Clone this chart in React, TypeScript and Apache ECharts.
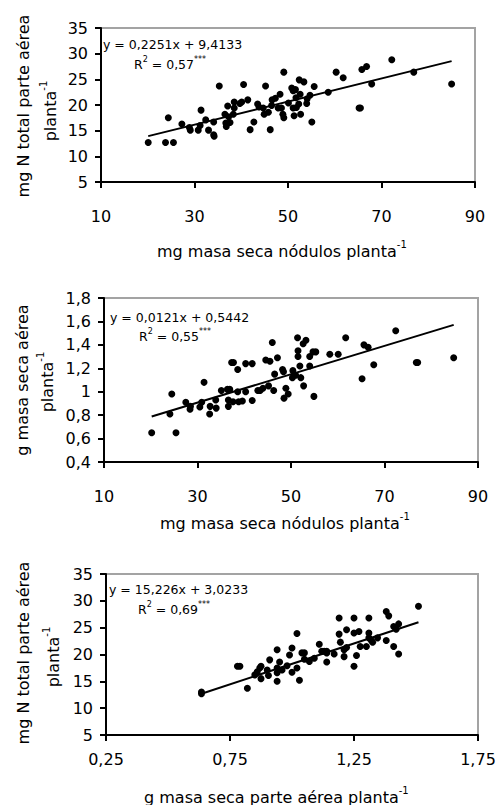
import React, { useEffect, useRef } from "react";
import * as echarts from "echarts";

// ---------- data ----------
// Chart 1: nodule dry mass (mg/plant) vs total N shoot (mg/plant)
const nod1X = [20.1, 23.8, 25.5, 24.4, 27.3, 28.9, 29.1, 30.8, 31.2, 31.4, 32.4, 33.0, 34.1, 34.1, 34.2, 35.3, 36.5, 36.7, 36.8, 37.1, 37.3, 37.6, 38.3, 38.5, 38.5, 39.7, 40.1, 40.5, 41.4, 41.9, 42.7, 43.5, 43.8, 44.7, 45.2, 44.9, 45.8, 46.2, 46.5, 46.6, 47.3, 48.3, 47.9, 48.6, 48.9, 49.1, 49.1, 50.1, 50.8, 51.1, 51.1, 51.3, 51.6, 51.7, 51.8, 52.3, 52.4, 52.6, 52.7, 53.4, 54.0, 54.1, 54.7, 55.1, 55.6, 58.6, 60.3, 61.8, 65.2, 65.5, 65.8, 66.8, 67.9, 72.2, 76.9, 85.0];
const nTot1Y = [12.7, 12.7, 12.7, 17.5, 16.3, 15.6, 15.1, 15.1, 16.0, 19.0, 17.1, 15.1, 16.7, 14.2, 13.9, 23.7, 18.2, 16.5, 15.8, 19.8, 17.7, 16.6, 18.2, 20.6, 19.4, 20.3, 20.6, 24.0, 21.0, 15.2, 16.7, 20.2, 19.6, 19.4, 23.7, 18.2, 18.6, 15.2, 19.9, 21.0, 21.3, 22.1, 19.4, 19.4, 18.2, 17.5, 26.4, 20.4, 23.3, 22.8, 19.4, 17.9, 23.0, 21.4, 19.5, 20.2, 24.9, 22.1, 18.2, 24.5, 20.3, 21.2, 21.9, 16.7, 23.6, 22.5, 26.4, 25.3, 19.4, 19.4, 26.9, 27.5, 24.1, 28.8, 26.4, 24.1];

// Chart 2: nodule dry mass vs shoot dry mass (g/plant)
const nod2X = [20.2, 24.1, 24.5, 25.4, 27.5, 28.4, 28.5, 30.5, 30.9, 31.4, 32.6, 32.7, 33.9, 34.0, 35.1, 36.4, 36.9, 36.6, 36.6, 37.3, 37.7, 37.6, 38.6, 38.6, 38.8, 39.6, 40.3, 40.3, 41.7, 41.7, 42.9, 43.4, 44.0, 44.6, 45.5, 45.2, 46.0, 46.3, 46.5, 47.1, 48.2, 48.4, 48.5, 48.9, 49.4, 50.3, 50.4, 51.0, 51.4, 51.5, 51.5, 51.9, 52.1, 52.6, 52.7, 53.2, 54.0, 54.0, 54.7, 54.9, 55.3, 58.3, 60.1, 61.7, 65.2, 65.6, 66.5, 67.7, 72.4, 76.8, 77.1, 84.8];
const msa2Y = [0.65, 0.81, 0.98, 0.65, 0.91, 0.85, 0.875, 0.87, 0.91, 1.08, 0.81, 0.875, 0.93, 0.86, 1.01, 1.02, 1.02, 0.93, 0.875, 1.25, 1.25, 0.915, 1.19, 1.0, 0.915, 0.92, 1.0, 1.24, 1.24, 0.925, 1.01, 1.01, 1.03, 1.27, 1.26, 1.05, 1.42, 1.01, 1.15, 1.29, 1.19, 1.17, 0.945, 1.03, 0.98, 1.12, 1.18, 1.14, 1.46, 1.35, 1.30, 1.22, 1.12, 1.41, 1.05, 1.44, 1.30, 1.22, 1.34, 0.96, 1.34, 1.32, 1.32, 1.46, 1.11, 1.40, 1.38, 1.23, 1.52, 1.25, 1.25, 1.29];

// Chart 3: shoot dry mass (g/plant) vs total N shoot (mg/plant)
const msa3X = [0.635, 0.635, 0.78, 0.79, 0.82, 0.85, 0.86, 0.87, 0.875, 0.875, 0.90, 0.91, 0.905, 0.94, 0.94, 0.94, 0.94, 0.95, 0.96, 0.98, 0.99, 1.0, 1.0, 1.02, 1.02, 1.03, 1.04, 1.05, 1.05, 1.07, 1.09, 1.11, 1.12, 1.13, 1.14, 1.14, 1.14, 1.17, 1.19, 1.19, 1.195, 1.21, 1.21, 1.22, 1.22, 1.25, 1.25, 1.25, 1.26, 1.27, 1.275, 1.30, 1.31, 1.31, 1.31, 1.32, 1.325, 1.345, 1.38, 1.38, 1.39, 1.41, 1.41, 1.42, 1.43, 1.43, 1.51];
const nTot3Y = [13.0, 12.7, 17.8, 17.8, 13.7, 16.2, 16.8, 17.5, 17.8, 15.5, 17.1, 19.0, 16.1, 20.9, 17.5, 16.6, 15.0, 18.6, 17.1, 17.9, 19.9, 21.2, 16.7, 23.9, 17.5, 15.2, 20.3, 20.3, 19.1, 18.7, 19.3, 21.9, 20.6, 20.6, 20.3, 20.6, 18.6, 20.1, 23.8, 26.8, 22.3, 20.9, 19.6, 21.3, 24.6, 26.8, 24.0, 17.8, 19.8, 24.3, 21.5, 21.5, 26.8, 24.0, 23.1, 22.6, 22.3, 23.1, 28.0, 22.6, 27.2, 21.5, 25.2, 24.7, 25.7, 20.1, 29.0];

// Regression coefficients (slope, intercept) as printed
const reg1 = [0.2251, 9.4133];
const reg2 = [0.0121, 0.5442];
const reg3 = [15.226, 3.0233];

// Tick values
const xTicks12 = [10, 30, 50, 70, 90];
const xTicks3 = [0.25, 0.75, 1.25, 1.75];
const yTicksN = [5, 10, 15, 20, 25, 30, 35];
const yTicksM = [0.4, 0.6, 0.8, 1, 1.2, 1.4, 1.6, 1.8];

// Texts
const eq1 = "y = 0,2251x + 9,4133";
const eq2 = "y = 0,0121x + 0,5442";
const eq3 = "y = 15,226x + 3,0233";
const r2Vals = ["0,57", "0,55", "0,69"];

const FONT = "DejaVu Sans";

function fmt(v: number): string {
  return String(Number(v.toFixed(2))).replace(".", ",");
}

function pairs(xs: number[], ys: number[]) {
  return xs.map((x, i) => [x, ys[i]]);
}

function regLine(xs: number[], c: number[]) {
  const lo = Math.min(...xs);
  const hi = Math.max(...xs);
  return [
    [lo, c[0] * lo + c[1]],
    [hi, c[0] * hi + c[1]],
  ];
}

export default function App() {
  const ref = useRef<HTMLDivElement>(null);

  useEffect(() => {
    if (!ref.current) return;
    const chart = echarts.init(ref.current, undefined, { renderer: "svg" });

    const grids = [
      { left: 101, top: 28, width: 374, height: 154 },
      { left: 104, top: 298, width: 374, height: 164 },
      { left: 106, top: 574, width: 372, height: 161 },
    ].map((g) => ({
      ...g,
      show: true,
      borderColor: "#a3a3a3",
      borderWidth: 2,
      backgroundColor: "transparent",
    }));

    const axisLine = { show: true, onZero: false, lineStyle: { color: "#000", width: 2 } };
    const axisTick = { show: true, inside: false, length: 6, lineStyle: { color: "#000", width: 2 } };
    const labelStyle = { color: "#000", fontSize: 16, fontFamily: FONT };

    const mkX = (gi: number, min: number, max: number, ticks: number[], margin: number) => ({
      type: "value",
      gridIndex: gi,
      min,
      max,
      axisLine,
      axisTick: { ...axisTick, customValues: ticks },
      axisLabel: { ...labelStyle, margin, customValues: ticks, formatter: (v: number) => fmt(v) },
      splitLine: { show: false },
    });
    const mkY = (gi: number, min: number, max: number, ticks: number[]) => ({
      type: "value",
      gridIndex: gi,
      min,
      max,
      axisLine,
      axisTick: { ...axisTick, customValues: ticks },
      axisLabel: { ...labelStyle, margin: 13, customValues: ticks, formatter: (v: number) => fmt(v) },
      splitLine: { show: false },
    });

    const scatter = (i: number, data: number[][]) => ({
      type: "scatter",
      xAxisIndex: i,
      yAxisIndex: i,
      data,
      symbol: "circle",
      symbolSize: 7,
      itemStyle: { color: "#000", opacity: 1 },
      z: 3,
    });
    const line = (i: number, data: number[][]) => ({
      type: "line",
      xAxisIndex: i,
      yAxisIndex: i,
      data,
      symbol: "none",
      lineStyle: { color: "#000", width: 2 },
      z: 4,
    });

    const rich = {
      a: { fontSize: 16, fontFamily: FONT, color: "#000", lineHeight: 24 },
      s: { fontSize: 10, fontFamily: FONT, color: "#000", verticalAlign: "top", lineHeight: 10 },
      e: { fontSize: 12.5, fontFamily: FONT, color: "#000", lineHeight: 18 },
      es: { fontSize: 8, fontFamily: FONT, color: "#000", verticalAlign: "top", lineHeight: 8 },
    };

    const txt = (x: number, y: number, text: string, opts: any = {}) => ({
      type: "text",
      x,
      y,
      rotation: opts.rot ? Math.PI / 2 : 0,
      silent: true,
      style: {
        text,
        rich,
        fill: "#000",
        fontFamily: FONT,
        fontSize: 16,
        align: opts.align || "left",
        verticalAlign: "middle",
      },
    });

    const graphic = [
      // equations
      txt(103, 44, `{e|${eq1}}`),
      txt(134, 64, `{e|R}{es|2}{e| = ${r2Vals[0]}}{es|***}`),
      txt(110, 317, `{e|${eq2}}`),
      txt(139, 336, `{e|R}{es|2}{e| = ${r2Vals[1]}}{es|***}`),
      txt(109, 589, `{e|${eq3}}`),
      txt(138, 609, `{e|R}{es|2}{e| = ${r2Vals[2]}}{es|***}`),
      // x titles
      txt(157, 251, "{a|mg masa seca nódulos planta}{s|-1}"),
      txt(160, 523, "{a|mg masa seca nódulos planta}{s|-1}"),
      txt(144, 797, "{a|g masa seca parte aérea planta}{s|-1}"),
      // y titles
      txt(23, 106, "{a|mg N total parte aérea}", { rot: true, align: "center" }),
      txt(50, 111, "{a|planta}{s|-1}", { rot: true, align: "center" }),
      txt(22, 380, "{a|g masa seca aérea}", { rot: true, align: "center" }),
      txt(47, 382, "{a|planta}{s|-1}", { rot: true, align: "center" }),
      txt(23, 653, "{a|mg N total parte aérea}", { rot: true, align: "center" }),
      txt(53, 657, "{a|planta}{s|-1}", { rot: true, align: "center" }),
    ];

    chart.setOption({
      animation: false,
      backgroundColor: "#fff",
      grid: grids,
      xAxis: [
        mkX(0, 10, 90, xTicks12, 26),
        mkX(1, 10, 90, xTicks12, 26),
        mkX(2, 0.25, 1.75, xTicks3, 16),
      ],
      yAxis: [mkY(0, 5, 35, yTicksN), mkY(1, 0.4, 1.8, yTicksM), mkY(2, 5, 35, yTicksN)],
      series: [
        scatter(0, pairs(nod1X, nTot1Y)),
        line(0, regLine(nod1X, reg1)),
        scatter(1, pairs(nod2X, msa2Y)),
        line(1, regLine(nod2X, reg2)),
        scatter(2, pairs(msa3X, nTot3Y)),
        line(2, regLine(msa3X, reg3)),
      ],
      graphic,
    });

    return () => chart.dispose();
  }, []);

  return (
    <div
      ref={ref}
      style={{ position: "fixed", left: 0, top: 0, width: 499, height: 805 }}
    />
  );
}
